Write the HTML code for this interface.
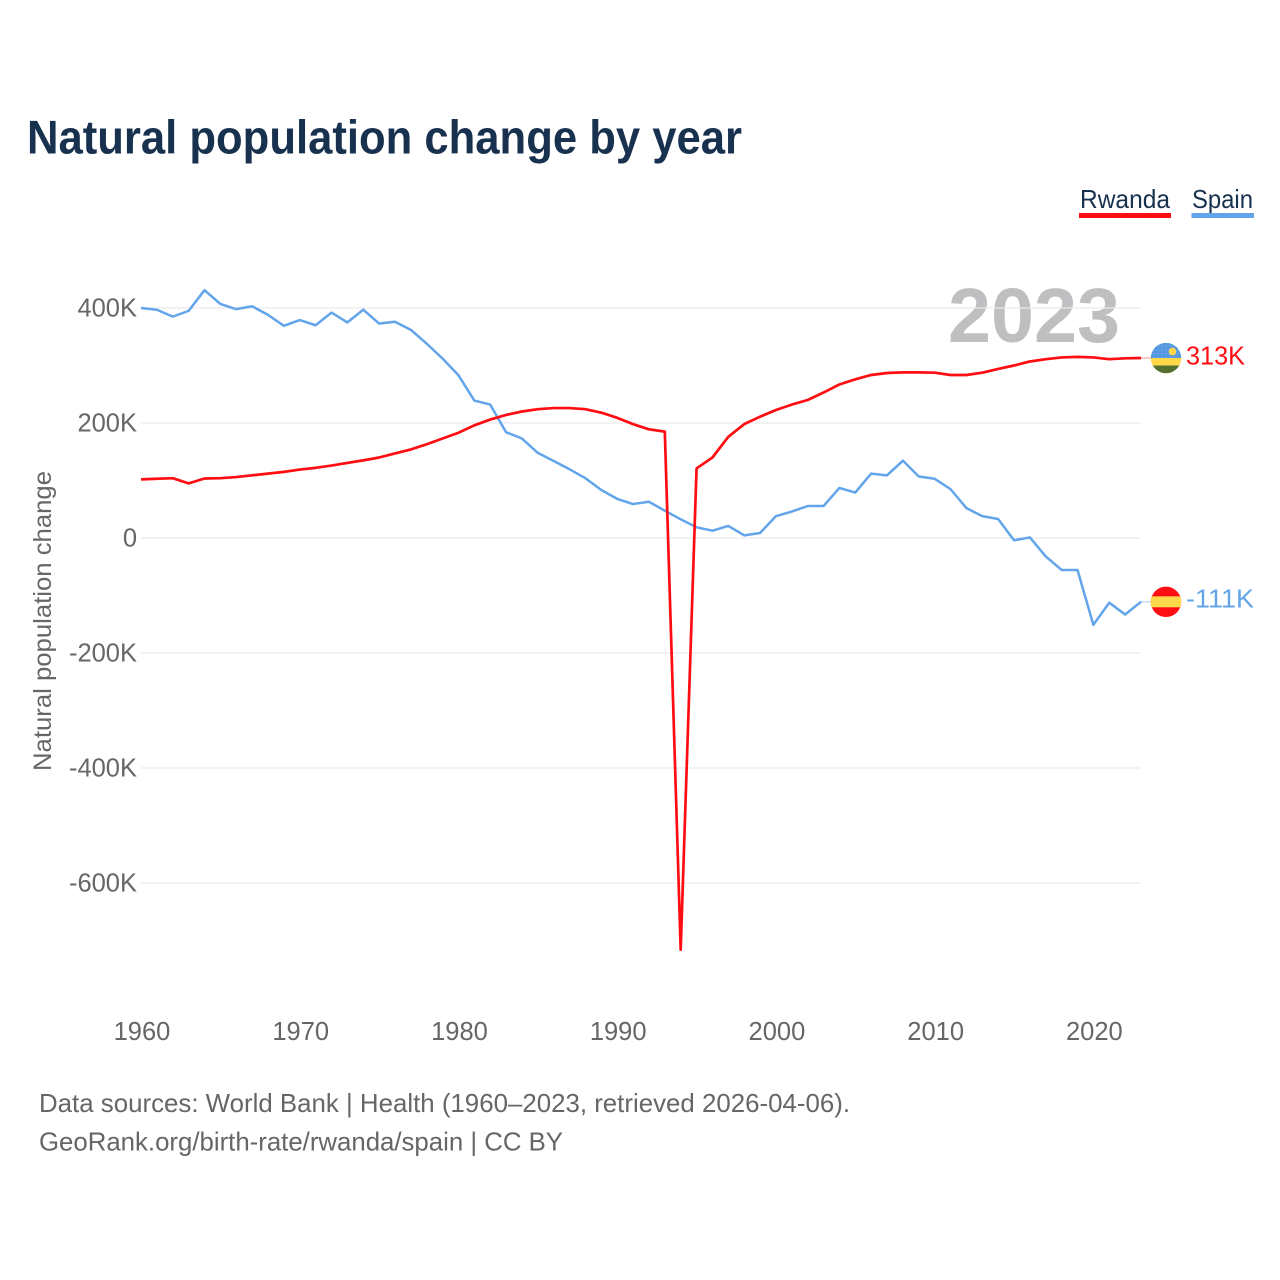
<!DOCTYPE html>
<html lang="en">
<head>
<meta charset="utf-8">
<title>Natural population change by year</title>
<style>
html,body{margin:0;padding:0;background:#fff;width:1280px;height:1280px;overflow:hidden}
svg{display:block;font-family:"Liberation Sans",sans-serif}
</style>
</head>
<body>
<svg id="chart" width="1280" height="1280" viewBox="0 0 1280 1280" xmlns="http://www.w3.org/2000/svg">
  <defs>
    <clipPath id="flag-clip"><circle cx="0" cy="0" r="15.2"></circle></clipPath>
    <pattern id="sky-dots" width="4" height="4" patternUnits="userSpaceOnUse"><rect width="4" height="4" fill="#5c9ee6"></rect><circle cx="2" cy="2" r="0.7" fill="#3f7fc4"></circle></pattern>
  </defs>
  <rect width="1280" height="1280" fill="#ffffff"></rect>
  <text x="27" y="153.5" font-size="47" font-weight="700" fill="#18314f" textLength="715" lengthAdjust="spacingAndGlyphs">Natural population change by year</text>

  <g>
    <g>
      <text x="1080" y="208" font-size="26" fill="#18314f" textLength="90" lengthAdjust="spacingAndGlyphs">Rwanda</text>
      <rect x="1079" y="213" width="92" height="5" fill="#ff0d12"></rect>
    </g>
    <g>
      <text x="1192" y="208" font-size="26" fill="#18314f" textLength="61" lengthAdjust="spacingAndGlyphs">Spain</text>
      <rect x="1191.5" y="213" width="62.5" height="5" fill="#62a5ea"></rect>
    </g>
  </g>

  <text x="948" y="342" font-size="77" font-weight="700" fill="#bfbfc1" textLength="172" lengthAdjust="spacingAndGlyphs">2023</text>
  <g id="grid"></g>
  <g id="y-ticks"></g>
  <g id="x-ticks"></g>
  <text transform="translate(51,621) rotate(-90)" text-anchor="middle" font-size="25" fill="#666666" textLength="300" lengthAdjust="spacingAndGlyphs">Natural population change</text>
  <g id="series"></g>
  <g id="end-markers"></g>

  <text x="39" y="1112" font-size="26" fill="#666666" textLength="811" lengthAdjust="spacingAndGlyphs">Data sources: World Bank | Health (1960–2023, retrieved 2026-04-06).</text>
  <text x="39" y="1150.5" font-size="26" fill="#666666" textLength="524" lengthAdjust="spacingAndGlyphs">GeoRank.org/birth-rate/rwanda/spain | CC BY</text>
</svg>
<script>
const firstYear = 1960;
const lastYear = 2023;
const yTickValues = [400, 200, 0, -200, -400, -600];
const yTickLabels = ["400K", "200K", "0", "-200K", "-400K", "-600K"];
const xTickValues = [1960, 1970, 1980, 1990, 2000, 2010, 2020];
const xTickLabels = ["1960", "1970", "1980", "1990", "2000", "2010", "2020"];
const rwandaValues = [102,103,104,95,103.5,104,106,109,112,115,119,122,126,130.5,135,140,147,154,163,173,183,196,206,214,220,224,226,226,224,218,209,198,189,185,-716,121,140,176,198,211,222.6,232,240,253,267,276,283.5,287,288,288,287.5,283.5,283.5,287.5,294,300,307,311,314,315,314,311,312.5,313];
const spainValues = [400,397,385,395,431,407,398,403,388,369,379,370,392,375,397,373,376,362,338,312,283,239,232,184,173,148,134,119.5,104,83.5,68,59,63,47.5,32.5,18.6,12.7,21,4.6,8.7,38,46,55.6,55.6,87,79,112,109,134.5,107,103,85,52,38,33,-4,1,-32,-55.6,-55.6,-151,-112.5,-133,-111];
const rwandaLabel = "313K";
const spainLabel = "-111K";

const SVG_NS = "http://www.w3.org/2000/svg";
const RED = "#ff0d12";
const BLUE = "#62a5ea";

function xScale(year) {
  return 141 + (year - firstYear) * (1000 / (lastYear - firstYear));
}
function yScale(value) {
  return 538 - value * 0.575;
}
function make(tag, parent, attrs, text) {
  const el = document.createElementNS(SVG_NS, tag);
  for (const key in attrs) el.setAttribute(key, attrs[key]);
  if (text !== undefined) el.textContent = text;
  parent.appendChild(el);
  return el;
}

const gridGroup = document.getElementById("grid");
const yTickGroup = document.getElementById("y-ticks");
yTickValues.forEach(function (value, i) {
  const line = make("line", gridGroup, {x1: xScale(firstYear), x2: xScale(lastYear), y1: yScale(value), y2: yScale(value), stroke: "#ebebeb", "stroke-width": 1.3});
  
  
  const label = make("text", yTickGroup, {x: 137, y: yScale(value) + 8.7, "text-anchor": "end", "font-size": 25.5, fill: "#666666"}, yTickLabels[i]);
  
  
});

const xTickGroup = document.getElementById("x-ticks");
xTickValues.forEach(function (year, i) {
  const label = make("text", xTickGroup, {x: xScale(year) + 1, y: 1040, "text-anchor": "middle", "font-size": 25.5, fill: "#666666"}, xTickLabels[i]);
  
  
});

function linePoints(values) {
  return values.map(function (value, i) {
    return xScale(firstYear + i).toFixed(2) + "," + yScale(value).toFixed(2);
  }).join(" ");
}

const seriesGroup = document.getElementById("series");
const spainLine = make("polyline", seriesGroup, {points: linePoints(spainValues), fill: "none", stroke: BLUE, "stroke-width": 2.5, "stroke-linejoin": "round"});


const rwandaLine = make("polyline", seriesGroup, {points: linePoints(rwandaValues), fill: "none", stroke: RED, "stroke-width": 2.7, "stroke-linejoin": "round"});



const markerGroup = document.getElementById("end-markers");
const endX = xScale(lastYear);
const rwandaEndY = yScale(rwandaValues[rwandaValues.length - 1]);
const spainEndY = yScale(spainValues[spainValues.length - 1]);

const rwandaConnector = make("line", markerGroup, {x1: endX, x2: endX + 10, y1: rwandaEndY, y2: rwandaEndY, stroke: RED, "stroke-width": 1.3, opacity: 0.35});


const spainConnector = make("line", markerGroup, {x1: endX, x2: endX + 10, y1: spainEndY, y2: spainEndY, stroke: BLUE, "stroke-width": 1.3, opacity: 0.4});



const rwandaFlag = make("g", markerGroup, {transform: "translate(" + (endX + 25) + "," + rwandaEndY + ")", "clip-path": "url(#flag-clip)"});


make("rect", rwandaFlag, {x: -16, y: -16, width: 32, height: 16.5, fill: "url(#sky-dots)"});
make("rect", rwandaFlag, {x: -16, y: 0, width: 32, height: 7.5, fill: "#ffd84a"});
make("rect", rwandaFlag, {x: -16, y: 7.5, width: 32, height: 9, fill: "#546f2e"});
make("circle", rwandaFlag, {cx: 6.5, cy: -6.5, r: 3.8, fill: "#ffd84a"});

const spainFlag = make("g", markerGroup, {transform: "translate(" + (endX + 25) + "," + spainEndY + ")", "clip-path": "url(#flag-clip)"});


make("rect", spainFlag, {x: -16, y: -16, width: 32, height: 32, fill: "#ff0d12"});
make("rect", spainFlag, {x: -16, y: -5.5, width: 32, height: 11, fill: "#ffd84a"});

const rwandaValueLabel = make("text", markerGroup, {x: endX + 45, y: rwandaEndY + 6.5, "font-size": 25.5, fill: RED, textLength: 59, lengthAdjust: "spacingAndGlyphs"}, rwandaLabel);


const spainValueLabel = make("text", markerGroup, {x: endX + 45, y: spainEndY + 5.5, "font-size": 25.5, fill: BLUE, textLength: 68, lengthAdjust: "spacingAndGlyphs"}, spainLabel);


</script>
</body>
</html>
